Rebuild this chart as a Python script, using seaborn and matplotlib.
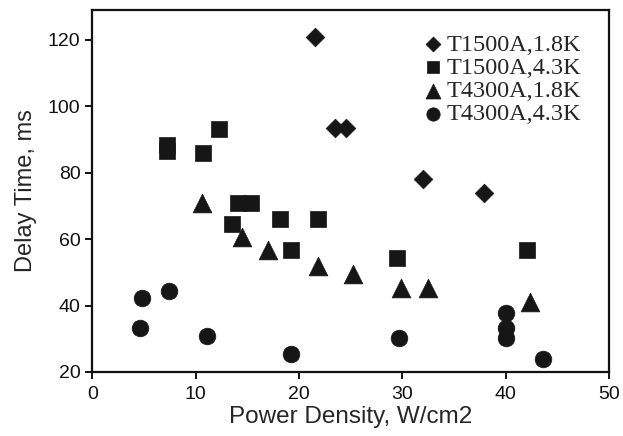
import pandas as pd
import seaborn as sns
import matplotlib.pyplot as plt

# data
t1500_18_x = [21.5, 23.5, 24.5, 32.0, 37.9]
t1500_18_y = [121, 93.6, 93.6, 78, 74]

t1500_43_x = [7.2, 7.2, 10.7, 12.3, 14.1, 15.4, 13.5, 18.2, 21.8, 19.2, 29.5, 42.0]
t1500_43_y = [88.3, 86.5, 86, 93.3, 71, 71, 64.4, 66, 66, 56.6, 54.2, 56.6]

t4300_18_x = [10.6, 14.5, 17.0, 21.8, 25.2, 29.9, 32.5, 42.3]
t4300_18_y = [71, 60.5, 56.6, 52, 49.4, 45.4, 45.4, 41]

t4300_43_x = [4.8, 7.4, 4.6, 11.1, 19.2, 29.7, 40.0, 40.0, 40.0, 43.6]
t4300_43_y = [42.2, 44.3, 33.2, 30.8, 25.4, 30.2, 37.7, 33.2, 30.2, 23.9]

labels = ['T1500A,1.8K', 'T1500A,4.3K', 'T4300A,1.8K', 'T4300A,4.3K']

frames = []
for lab, xs, ys in zip(labels,
                       [t1500_18_x, t1500_43_x, t4300_18_x, t4300_43_x],
                       [t1500_18_y, t1500_43_y, t4300_18_y, t4300_43_y]):
    frames.append(pd.DataFrame({'power': xs, 'delay': ys, 'series': lab}))
df = pd.concat(frames, ignore_index=True)

sns.set_style('ticks')

markers = {'T1500A,1.8K': 'D', 'T1500A,4.3K': 's', 'T4300A,1.8K': '^', 'T4300A,4.3K': 'o'}
sizes = {'T1500A,1.8K': 9.5, 'T1500A,4.3K': 11, 'T4300A,1.8K': 13.5, 'T4300A,4.3K': 12}
ink = '#161616'

fig, ax = plt.subplots(figsize=(6.23, 4.36), dpi=100)
fig.subplots_adjust(left=0.148, right=0.978, top=0.977, bottom=0.147)

for lab in labels:
    sub = df[df['series'] == lab]
    sns.scatterplot(data=sub, x='power', y='delay', marker=markers[lab],
                    s=sizes[lab] ** 2, color=ink, edgecolor=ink, linewidth=0.5,
                    label=lab, ax=ax)

ax.set_xlim(0, 50)
ax.set_ylim(20, 129)
ax.set_xticks([0, 10, 20, 30, 40, 50])
ax.set_yticks([20, 40, 60, 80, 100, 120])

for side in ['left', 'right', 'top', 'bottom']:
    ax.spines[side].set_visible(True)
    ax.spines[side].set_linewidth(1.6)
    ax.spines[side].set_color('#111111')

ax.tick_params(axis='both', direction='out', length=5, width=1.4, labelsize=14,
               colors='#111111')
ax.tick_params(axis='x', pad=5)
ax.set_xlabel('Power Density, W/cm2', fontsize=17.5, family='Liberation Sans', labelpad=2)
ax.set_ylabel('Delay Time, ms', fontsize=17, family='Liberation Sans', labelpad=8)
for t in ax.get_xticklabels() + ax.get_yticklabels():
    t.set_family('Liberation Sans')

leg = ax.legend(loc='upper right', bbox_to_anchor=(0.945, 0.935), frameon=False,
                markerscale=0.8, prop={'family': 'Liberation Serif', 'size': 17.5},
                handletextpad=0.15, handlelength=0.8, labelspacing=0.05,
                borderaxespad=0, borderpad=0)

plt.savefig('out.png', dpi=100)
